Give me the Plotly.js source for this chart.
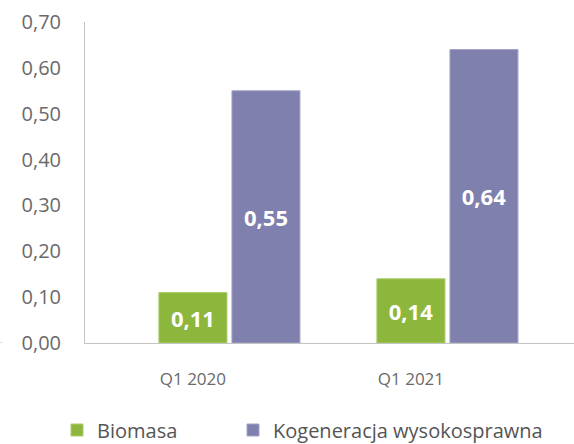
<!DOCTYPE html>
<html>
<head>
<meta charset="utf-8">
<script src="https://cdn.plot.ly/plotly-3.0.1.min.js"></script>
<style>html,body{margin:0;padding:0;background:#fff;}#chart{width:574px;height:444px;}</style>
</head>
<body>
<div id="chart"></div>
<script>
var categories = ['Q1 2020', 'Q1 2021'];
var biomasa = [0.11, 0.14];
var kogeneracja = [0.55, 0.64];
var biomasaLabels = ['0,11', '0,14'];
var kogeneracjaLabels = ['0,55', '0,64'];
var yTickVals = [0, 0.1, 0.2, 0.3, 0.4, 0.5, 0.6, 0.7];
var yTickText = ['0,00', '0,10', '0,20', '0,30', '0,40', '0,50', '0,60', '0,70'];

var FONT = 'Open Sans, sans-serif';
var BAR_W = 0.312;

var traces = [
  {
    type: 'bar', name: 'Biomasa', x: categories, y: biomasa,
    width: BAR_W, offset: -0.156,
    text: biomasaLabels, textposition: 'inside', insidetextanchor: 'middle',
    textfont: {family: FONT, size: 22, color: '#ffffff', weight: 'bold'},
    marker: {color: '#8db63c', line: {color: '#a9cc6a', width: 1}},
    hoverinfo: 'none', legend: 'legend'
  },
  {
    type: 'bar', name: 'Kogeneracja wysokosprawna', x: categories, y: kogeneracja,
    width: BAR_W, offset: 0.179,
    text: kogeneracjaLabels, textposition: 'inside', insidetextanchor: 'middle',
    textfont: {family: FONT, size: 22, color: '#ffffff', weight: 'bold'},
    marker: {color: '#7f80ad', line: {color: '#a3a4c8', width: 1}},
    hoverinfo: 'none', legend: 'legend2'
  }
];

var legendBase = {
  orientation: 'h', xref: 'container', yref: 'container',
  xanchor: 'left', y: 14 / 444, yanchor: 'middle',
  font: {family: FONT, size: 20, color: '#555555'},
  bgcolor: 'rgba(0,0,0,0)'
};

var layout = {
  width: 574, height: 444,
  margin: {l: 85, r: 0, t: 22, b: 101},
  paper_bgcolor: '#ffffff', plot_bgcolor: '#ffffff',
  barmode: 'group',
  showlegend: true,
  legend: Object.assign({}, legendBase, {x: 57 / 574}),
  legend2: Object.assign({}, legendBase, {x: 233 / 574}),
  xaxis: {
    type: 'category', range: [-0.495, 1.748],
    showline: true, linecolor: '#c4c4c4', linewidth: 1,
    showgrid: false, zeroline: false, ticks: '',
    ticklabelstandoff: 21,
    tickfont: {family: FONT, size: 17, color: '#6a6a6a'}
  },
  yaxis: {
    range: [0, 0.7], tickvals: yTickVals, ticktext: yTickText,
    showline: true, linecolor: '#c4c4c4', linewidth: 1,
    showgrid: false, zeroline: false, ticks: '',
    ticklabelstandoff: 19,
    tickfont: {family: FONT, size: 20, color: '#6a6a6a'}
  },
  shapes: [
    {type: 'line', xref: 'paper', yref: 'y', x0: -85 / 489, x1: -82 / 489, y0: 0, y1: 0,
     line: {color: '#c4c4c4', width: 1}}
  ]
};

Plotly.newPlot('chart', traces, layout, {displayModeBar: false, staticPlot: true});
</script>
</body>
</html>
